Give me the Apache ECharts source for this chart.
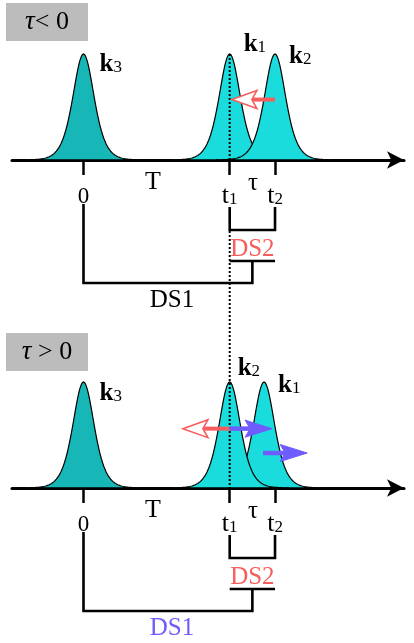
<!DOCTYPE html>
<html>
<head>
<meta charset="utf-8">
<script src="https://cdn.jsdelivr.net/npm/echarts@6/dist/echarts.min.js"></script>
<style>
  html, body { margin: 0; padding: 0; background: #fff; }
  #chart { width: 414px; height: 643px; }
</style>
</head>
<body>
<div id="chart"></div>
<script>
// ---- time marks on the axis (arbitrary units, T = t1 - 0) ----
const tickTimes = [0, 10, 13.1];
const tickNames = ['0', 't1', 't2'];
// interval labels between the marks
const spanNames = ['T', 'τ'];
const spanTimes = [4.75, 11.6];

// ---- pulses, listed in drawing order ----
const upperPulseNames = ['k3', 'k1', 'k2'];
const upperPulseTimes = [0, 10, 13.1];
const upperPulseHeights = [1, 1, 1];
const lowerPulseNames = ['k3', 'k1', 'k2'];
const lowerPulseTimes = [0, 12.35, 10];
const lowerPulseHeights = [1, 1, 1];

// ---- arrows: start time, tip time, height ----
const upperArrowFrom = [13.1];
const upperArrowTo = [10.15];
const upperArrowHeight = [0.57];
const upperArrowKind = ['red'];
const lowerArrowFrom = [10, 10, 12.28];
const lowerArrowTo = [6.8, 12.9, 15.3];
const lowerArrowHeight = [0.56, 0.56, 0.33];
const lowerArrowKind = ['red', 'blue', 'blue'];

// ---- panel tags ----
const panelTags = [['τ', '< 0'], ['τ', ' > 0']];

// ---- layout / style ----
const SERIF = '"Liberation Serif", "DejaVu Serif", serif';
const RED = '#f65e5e';
const BLUE = '#6e5cff';
const TEAL_DARK = '#17b7b7';
const TEAL = '#1adcdc';
const PX_PER_UNIT = 14.62;
const ORIGIN_PX = 83.5;
const AXIS_LEFT = 12, AXIS_RIGHT = 10, W = 414;
const XMIN = -(ORIGIN_PX - AXIS_LEFT) / PX_PER_UNIT;
const XMAX = XMIN + (W - AXIS_LEFT - AXIS_RIGHT) / PX_PER_UNIT;
const PANEL_TOPS = [54, 382];
const PANEL_H = 106;
const PANEL_GAP = PANEL_TOPS[1] - PANEL_TOPS[0];
const PULSE_WIDTH = 0.97;   // sech^2 pulse width, time units

const t1 = tickTimes[1], t2 = tickTimes[2];

const kLabelOffsets = {
  0: { k3: [16, -2], k1: [14, -22], k2: [14, -10] },
  1: { k3: [16, -1], k1: [14, -9], k2: [8, -26] }
};

function kRich() {
  return {
    k: { fontFamily: SERIF, fontWeight: 'bold', fontSize: 25, fill: '#000', padding: [0, 0, 7, 0] },
    s: { fontFamily: SERIF, fontSize: 17, fill: '#000' }
  };
}

function sech2(u) {
  const c = Math.cosh(u);
  return 1 / (c * c);
}

function pulseSeries(g, times, heights, names) {
  return {
    type: 'custom', xAxisIndex: g, yAxisIndex: g, clip: false, z: 3,
    data: times.map((t, i) => [t, heights[i]]),
    renderItem(params, api) {
      const i = params.dataIndex;
      const t = api.value(0), h = api.value(1);
      const pts = [];
      for (let k = -50; k <= 50; k++) {
        const u = k / 12;
        pts.push(api.coord([t + u * PULSE_WIDTH, h * sech2(u)]));
      }
      const peak = api.coord([t, h]);
      const name = names[i];
      const off = kLabelOffsets[g][name];
      return {
        type: 'group',
        children: [
          { type: 'polygon', shape: { points: pts },
            style: { fill: name === 'k3' ? TEAL_DARK : TEAL, stroke: '#000', lineWidth: 1.2 } },
          { type: 'text', x: peak[0] + off[0], y: peak[1] + off[1],
            style: { text: '{k|k}{s|' + name.slice(1) + '}', rich: kRich(), align: 'left', verticalAlign: 'top' } }
        ]
      };
    }
  };
}

function arrowShape(p0, p1, kind) {
  const dir = p1[0] > p0[0] ? 1 : -1;
  const headLen = kind === 'red' ? 25 : 27;
  const half = kind === 'red' ? 9 : 8.5;
  const notch = 5;
  const tipX = p1[0], y = p1[1];
  const backX = tipX - dir * headLen;
  const shaftEnd = backX + dir * notch;
  const color = kind === 'red' ? RED : BLUE;
  return [
    { type: 'line', shape: { x1: p0[0], y1: y, x2: shaftEnd, y2: y },
      style: { stroke: color, lineWidth: kind === 'red' ? 4 : 4.5 } },
    { type: 'polygon',
      shape: { points: [[tipX, y], [backX, y - half], [backX + dir * notch, y], [backX, y + half]] },
      style: kind === 'red'
        ? { fill: '#fff', stroke: RED, lineWidth: 1.6 }
        : { fill: BLUE, stroke: BLUE, lineWidth: 1 } }
  ];
}

function arrowSeries(g, from, to, hts, kinds) {
  return {
    type: 'custom', xAxisIndex: g, yAxisIndex: g, clip: false, z: 6,
    data: from.map((f, i) => [f, to[i], hts[i]]),
    renderItem(params, api) {
      const i = params.dataIndex;
      const p0 = api.coord([api.value(0), api.value(2)]);
      const p1 = api.coord([api.value(1), api.value(2)]);
      return { type: 'group', children: arrowShape(p0, p1, kinds[i]) };
    }
  };
}

// brackets and labels below each axis
function bracketSeries(g, ds1Color) {
  return {
    type: 'custom', xAxisIndex: g, yAxisIndex: g, clip: false, z: 4,
    data: [[tickTimes[0], t1, t2]],
    renderItem(params, api) {
      const a = api.coord([api.value(0), 0]);
      const b = api.coord([api.value(1), 0]);
      const c = api.coord([api.value(2), 0]);
      const y0 = a[1];
      const mid = (b[0] + c[0]) / 2;
      const ls = { fill: 'none', stroke: '#000', lineWidth: 2.6, lineCap: 'butt', lineJoin: 'miter' };
      const children = [
        { type: 'polyline', shape: { points: [[b[0], y0 + 47], [b[0], y0 + 70], [c[0], y0 + 70], [c[0], y0 + 47]] }, style: ls },
        { type: 'line', shape: { x1: b[0], y1: y0 + 101, x2: c[0], y2: y0 + 101 }, style: ls },
        { type: 'polyline', shape: { points: [[mid, y0 + 101], [mid, y0 + 123], [a[0], y0 + 123], [a[0], y0 + 44]] }, style: ls },
        { type: 'text', x: mid, y: y0 + 89,
          style: { text: 'DS2', fill: RED, font: '25px ' + SERIF, align: 'center', verticalAlign: 'middle' } },
        { type: 'text', x: (a[0] + mid) / 2 + 4, y: y0 + 140,
          style: { text: 'DS1', fill: ds1Color, font: '25px ' + SERIF, align: 'center', verticalAlign: 'middle' } }
      ];
      spanNames.forEach((n, i) => {
        const p = api.coord([spanTimes[i], 0]);
        children.push({ type: 'text', x: p[0], y: y0 + (n === 'T' ? 22 : 23),
          style: { text: n, fill: '#000', font: (n === 'T' ? '26px ' : '25px ') + SERIF, align: 'center', verticalAlign: 'middle' } });
      });
      return { type: 'group', children };
    }
  };
}

// dotted guide at t1 running through both panels
const guideSeries = {
  type: 'custom', xAxisIndex: 0, yAxisIndex: 0, clip: false, z: 5,
  data: [[t1, upperPulseHeights[1]]],
  renderItem(params, api) {
    const top = api.coord([api.value(0), api.value(1)]);
    const base = api.coord([api.value(0), 0]);
    const st = { stroke: '#000', lineWidth: 2, lineDash: [2, 2] };
    return {
      type: 'group',
      children: [
        { type: 'line', shape: { x1: top[0], y1: top[1], x2: base[0], y2: base[1] }, style: st },
        { type: 'line', shape: { x1: base[0], y1: base[1] + 71, x2: base[0], y2: base[1] + PANEL_GAP }, style: st }
      ]
    };
  }
};

function xAxisFor(g) {
  return {
    gridIndex: g, type: 'value', min: XMIN, max: XMAX,
    splitLine: { show: false },
    axisLine: { show: true, onZero: false, symbol: ['none', 'arrow'], symbolSize: [13, 17],
      lineStyle: { color: '#000', width: 3 } },
    axisTick: { show: true, customValues: tickTimes, length: 15, lineStyle: { color: '#000', width: 2.5 } },
    axisLabel: {
      show: true, customValues: tickTimes, margin: 23,
      formatter(v) {
        const i = tickTimes.findIndex(t => Math.abs(t - v) < 1e-6);
        const n = tickNames[i] || '';
        return n.length > 1 ? '{t|' + n[0] + '}{s|' + n.slice(1) + '}' : '{n|' + n + '}';
      },
      rich: {
        n: { fontFamily: SERIF, fontSize: 23, color: '#000', padding: [2, 0, 0, 0] },
        t: { fontFamily: SERIF, fontSize: 26, color: '#000', padding: [0, 0, 8, 0] },
        s: { fontFamily: SERIF, fontSize: 17, color: '#000' }
      }
    }
  };
}

function yAxisFor(g) {
  return { gridIndex: g, type: 'value', min: 0, max: 1, show: false };
}

function tagGraphic(i) {
  return {
    type: 'group', left: 6, top: 3 + i * PANEL_GAP + (i ? 2 : 0),
    children: [
      { type: 'rect', shape: { x: 0, y: 0, width: 82, height: 38 }, style: { fill: '#bcbcbc' } },
      { type: 'text', x: 41, y: 19,
        style: {
          text: '{i|' + panelTags[i][0] + '}{n|' + panelTags[i][1] + '}',
          align: 'center', verticalAlign: 'middle',
          rich: {
            i: { fontFamily: SERIF, fontStyle: 'italic', fontSize: 27, fill: '#000' },
            n: { fontFamily: SERIF, fontSize: 26, fill: '#000' }
          }
        } }
    ]
  };
}

const chart = echarts.init(document.getElementById('chart'), null, { renderer: 'canvas' });
chart.setOption({
  animation: false,
  backgroundColor: '#fff',
  grid: PANEL_TOPS.map(top => ({ left: AXIS_LEFT, right: AXIS_RIGHT, top, height: PANEL_H })),
  xAxis: [xAxisFor(0), xAxisFor(1)],
  yAxis: [yAxisFor(0), yAxisFor(1)],
  graphic: [tagGraphic(0), tagGraphic(1)],
  series: [
    pulseSeries(0, upperPulseTimes, upperPulseHeights, upperPulseNames),
    pulseSeries(1, lowerPulseTimes, lowerPulseHeights, lowerPulseNames),
    guideSeries,
    bracketSeries(0, '#000'),
    bracketSeries(1, BLUE),
    arrowSeries(0, upperArrowFrom, upperArrowTo, upperArrowHeight, upperArrowKind),
    arrowSeries(1, lowerArrowFrom, lowerArrowTo, lowerArrowHeight, lowerArrowKind)
  ]
});
</script>
</body>
</html>
